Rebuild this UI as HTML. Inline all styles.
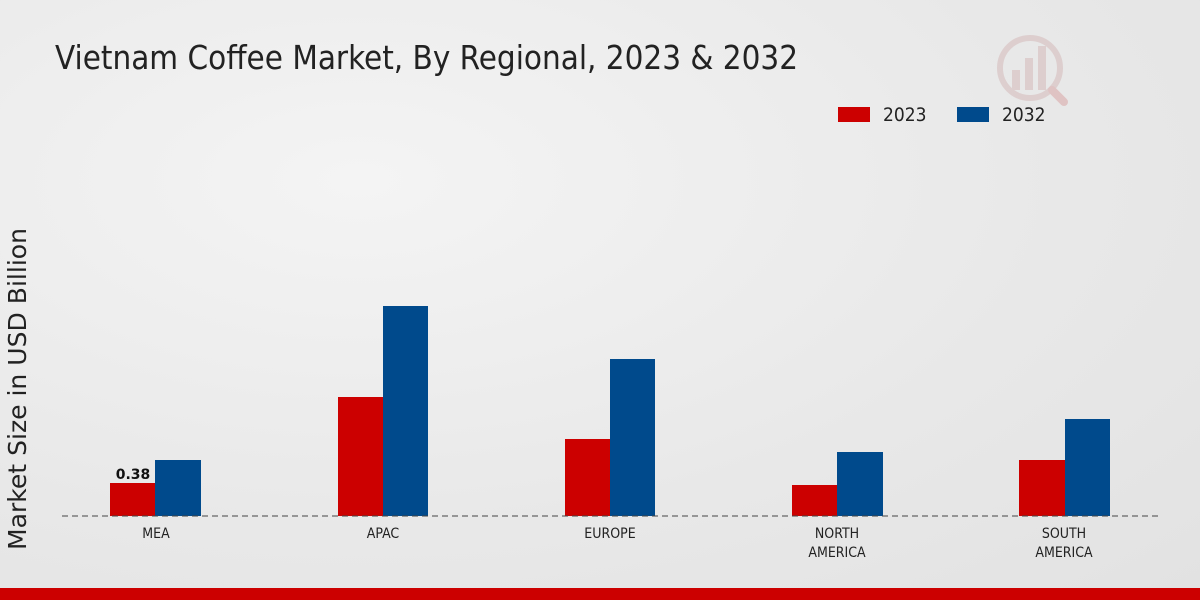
<!DOCTYPE html>
<html><head><meta charset="utf-8"><style>
html,body{margin:0;padding:0;width:1200px;height:600px;overflow:hidden}
body{background:radial-gradient(ellipse at 30% 30%,#f4f4f4 0%,#e8e8e8 60%,#e2e2e2 100%);font-family:"Liberation Sans","DejaVu Sans",sans-serif}
</style></head><body>
<svg width="1200" height="600" xmlns="http://www.w3.org/2000/svg" style="position:absolute;left:0;top:0">
<text x="55" y="69" font-family="'DejaVu Sans Condensed','Liberation Sans',sans-serif" font-size="33" fill="#222" textLength="743" lengthAdjust="spacingAndGlyphs">Vietnam Coffee Market, By Regional, 2023 &amp; 2032</text>
<g opacity="0.35">
<circle cx="1030" cy="68" r="30" fill="none" stroke="#c9a0a0" stroke-width="6"/>
<rect x="1012" y="70" width="8" height="20" fill="#c9a0a0"/>
<rect x="1025" y="58" width="8" height="32" fill="#c9a0a0"/>
<rect x="1038" y="46" width="8" height="44" fill="#c9a0a0"/>
<line x1="1052" y1="90" x2="1064" y2="102" stroke="#d08080" stroke-width="8" stroke-linecap="round"/>
</g>
<rect x="838" y="107" width="32" height="15" fill="#cc0000"/>
<text x="883" y="121" font-size="19" fill="#222" font-family="'DejaVu Sans Condensed','Liberation Sans',sans-serif">2023</text>
<rect x="957" y="107" width="32" height="15" fill="#004a8c"/>
<text x="1002" y="121" font-size="19" fill="#222" font-family="'DejaVu Sans Condensed','Liberation Sans',sans-serif">2032</text>
<text transform="translate(26,389) rotate(-90)" text-anchor="middle" font-size="25" fill="#222" font-family="'DejaVu Sans','Liberation Sans',sans-serif" textLength="322" lengthAdjust="spacingAndGlyphs">Market Size in USD Billion</text>
<g fill="#cc0000">
<rect x="110" y="483" width="45" height="33"/>
<rect x="338" y="397" width="45" height="119"/>
<rect x="565" y="439" width="45" height="77"/>
<rect x="792" y="485" width="45" height="31"/>
<rect x="1019" y="460" width="46" height="56"/>
</g>
<g fill="#004a8c">
<rect x="155" y="460" width="46" height="56"/>
<rect x="383" y="306" width="45" height="210"/>
<rect x="610" y="359" width="45" height="157"/>
<rect x="837" y="452" width="46" height="64"/>
<rect x="1065" y="419" width="45" height="97"/>
</g>
<line x1="62" y1="516" x2="1160" y2="516" stroke="#444" stroke-width="1" stroke-dasharray="6,4"/>
<text x="133" y="479" text-anchor="middle" font-size="14" font-weight="bold" fill="#111" font-family="'DejaVu Sans','Liberation Sans',sans-serif">0.38</text>
<g font-size="14" fill="#222" text-anchor="middle" font-family="'DejaVu Sans Condensed','Liberation Sans',sans-serif">
<text x="156" y="538">MEA</text>
<text x="383" y="538">APAC</text>
<text x="610" y="538">EUROPE</text>
<text x="837" y="538">NORTH</text>
<text x="837" y="557">AMERICA</text>
<text x="1064" y="538">SOUTH</text>
<text x="1064" y="557">AMERICA</text>
</g>
<rect x="0" y="588" width="1200" height="12" fill="#cc0000"/>
</svg>
</body></html>
